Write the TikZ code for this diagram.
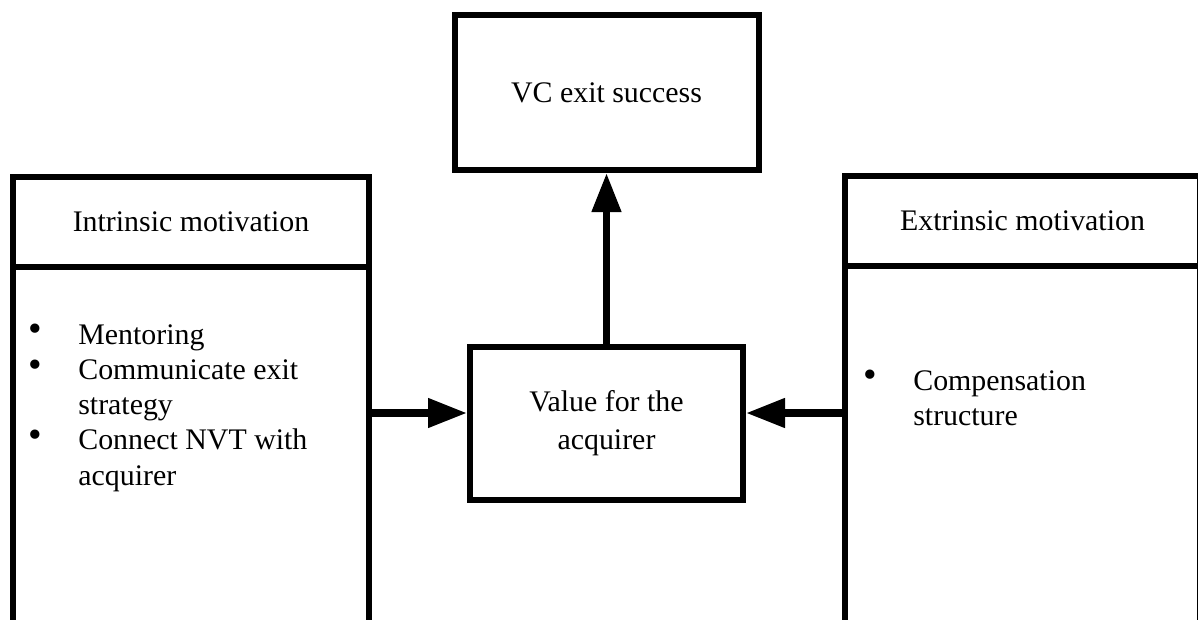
\documentclass[tikz,border=0pt]{standalone}
\usepackage{fontspec}
\setmainfont{Liberation Serif}
\usepackage{array}
\usetikzlibrary{arrows.meta,positioning}
\newcommand{\listbullet}{\raisebox{1.5pt}{\scalebox{1.3}{\textbullet}}}

\begin{document}
\begin{tikzpicture}[
  font=\fontsize{17pt}{20pt}\selectfont,
  boxnode/.style={rectangle, draw, line width=0.12cm, inner sep=0pt, align=center},
  colnode/.style={rectangle, draw, line width=0.12cm, inner sep=0pt, outer sep=0pt, minimum width=7.12cm, align=center},
  arrow/.style={-{Triangle[length=0.78cm,width=0.56cm]}, line width=0.15cm}
]
\useasboundingbox (0,0) rectangle (23.96,-12.38);
\clip (0,0) rectangle (23.96,-12.38);

% nodes
\node[boxnode, minimum width=5.46cm, minimum height=3.06cm, font=\fontsize{17pt}{21.5pt}\selectfont] (value) at (12.13,-8.47) {Value for the\\acquirer};
\node[boxnode, minimum width=6.08cm, minimum height=3.1cm, above=3.42cm of value] (exit) {VC exit success};

\node[colnode, minimum height=1.8cm] (intrhead) at (3.82,-4.44) {Intrinsic motivation};
\node[colnode, minimum height=9cm, below=0pt of intrhead] (intrbody) {};
\node[colnode, minimum width=7.1cm, minimum height=1.79cm] (extrhead) at (20.45,-4.415) {Extrinsic motivation};
\node[colnode, minimum width=7.1cm, minimum height=9cm, below=0pt of extrhead] (extrbody) {};

% lists
\node[anchor=base west, inner sep=0pt] (intrlist) at ([xshift=0.3cm,yshift=-1.55cm]intrbody.north west) {%
  \begin{tabular}[t]{@{}p{1cm}@{}l@{}}
    \listbullet & Mentoring\\
    \listbullet & Communicate exit\\
                & strategy\\
    \listbullet & Connect NVT with\\
                & acquirer
  \end{tabular}};
\node[anchor=base west, inner sep=0pt] (extrlist) at ([xshift=0.36cm,yshift=-2.49cm]extrbody.north west) {%
  \begin{tabular}[t]{@{}p{1cm}@{}l@{}}
    \listbullet & Compensation\\
                & structure
  \end{tabular}};

% arrows
\coordinate[yshift=0.21cm] (inL) at (value.west);
\coordinate[yshift=0.21cm] (inR) at (value.east);
\draw[arrow] (inL -| intrbody.east) -- (inL);
\draw[arrow] (inR -| extrbody.west) -- (inR);
\draw[arrow] (value.north) -- (value.north |- exit.south);

\end{tikzpicture}
\end{document}
